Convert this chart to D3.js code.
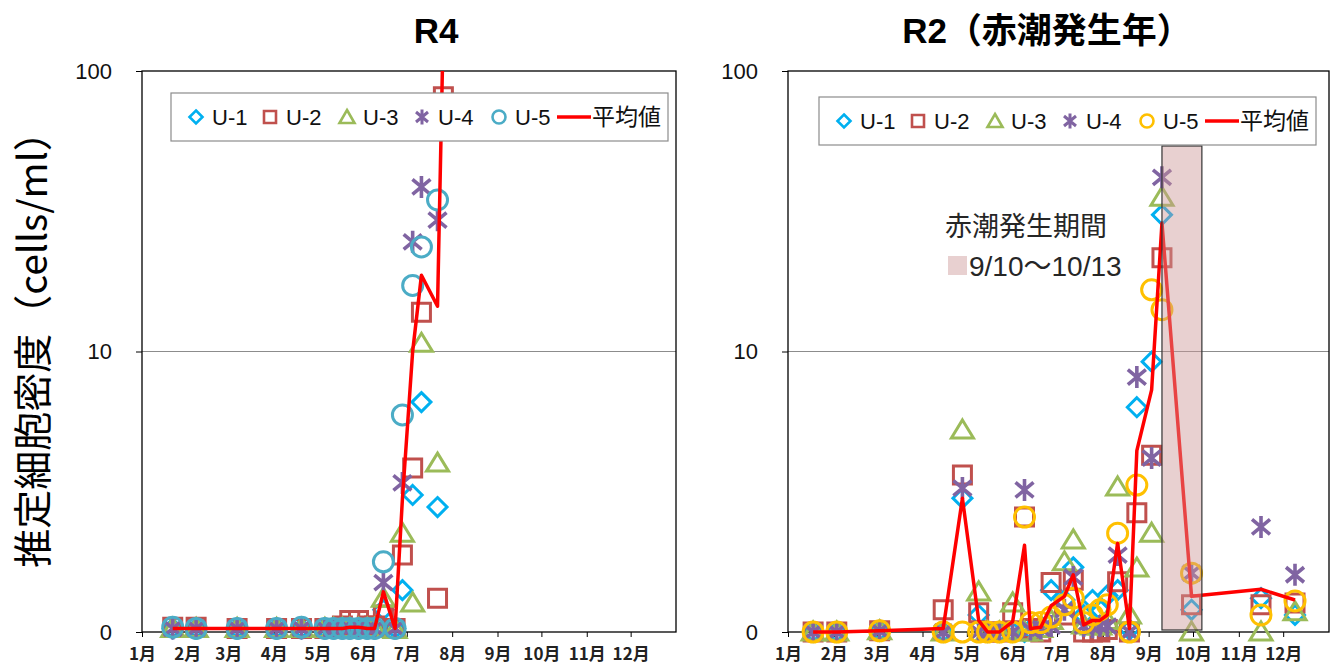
<!DOCTYPE html>
<html>
<head>
<meta charset="utf-8">
<script src="https://cdn.jsdelivr.net/npm/d3@7"></script>
<style>
body{margin:0;background:#fff;}
text{font-family:"Liberation Sans","Noto Sans CJK JP",sans-serif;}
</style>
</head>
<body>
<script>
// tick labels
const monthLabels = ["1月","2月","3月","4月","5月","6月","7月","8月","9月","10月","11月","12月"];
const yTickValues = [1, 10, 100];
const yTickLabels = ["0", "10", "100"];
const seriesNames = ["U-1","U-2","U-3","U-4","U-5"];
const avgName = "平均値";
const yTitle = "推定細胞密度（cells/ml）";

// R4 (2022)
const r4Dates = ["2022-01-22","2022-02-07","2022-03-07","2022-04-03","2022-04-20","2022-05-06","2022-05-12","2022-05-18","2022-05-23","2022-05-29","2022-06-04","2022-06-09","2022-06-15","2022-06-23","2022-06-28","2022-07-05","2022-07-11","2022-07-22","2022-07-26"];
const r4U1 = [1.03,1.03,1.03,1.03,1.03,1.03,1.03,1.03,1.03,1.03,1.03,1.03,1.20,1.03,1.41,3.08,6.6,2.79,null];
const r4U2 = [1.04,1.04,1.03,1.03,1.03,1.03,1.03,1.05,1.10,1.10,1.05,1.05,1.15,1.03,1.88,3.84,13.8,1.32,81];
const r4U3 = [1.03,1.03,1.03,1.03,1.03,1.03,1.03,1.03,1.03,1.03,1.03,1.03,1.32,1.02,2.25,1.27,10.7,4.0,null];
const r4U4 = [1.03,1.03,1.03,1.03,1.03,1.03,1.03,1.03,1.03,1.03,1.03,1.03,1.50,1.03,3.40,24.6,38.6,29.4,null];
const r4U5 = [1.04,1.03,1.03,1.03,1.04,1.03,1.03,1.03,1.03,1.03,1.03,1.03,1.78,1.03,5.94,17.2,23.6,34.7,null];
const r4Avg = [1.03,1.03,1.03,1.03,1.03,1.03,1.03,1.03,1.04,1.04,1.03,1.03,1.39,1.03,2.98,10.0,18.7,14.5,150];

// R2 (2020, red tide year)
const r2Dates = ["2020-01-18","2020-02-03","2020-03-03","2020-04-15","2020-04-28","2020-05-09","2020-05-15","2020-05-23","2020-06-01","2020-06-09","2020-06-13","2020-06-20","2020-06-27","2020-07-06","2020-07-12","2020-07-19","2020-07-25","2020-07-30","2020-08-04","2020-08-11","2020-08-19","2020-08-24","2020-09-03","2020-09-10","2020-09-30","2020-11-16","2020-12-09"];
const r2U1 = [1.0,1.0,1.01,1.0,3.0,1.15,1.0,1.0,1.0,1.0,1.02,1.05,1.41,1.30,1.70,1.15,1.30,1.20,1.35,1.41,1.02,6.33,9.2,30.7,1.2,1.32,1.15];
const r2U2 = [1.0,1.0,1.01,1.20,3.63,1.17,1.0,1.0,1.17,2.57,1.03,1.0,1.50,1.15,1.53,1.0,1.0,1.0,1.02,1.51,1.0,2.66,4.27,21.6,1.25,1.25,1.27];
const r2U3 = [1.0,1.0,1.01,1.0,5.25,1.39,1.0,1.0,1.27,1.0,1.0,1.03,1.10,1.78,2.13,1.06,1.05,1.05,1.10,3.29,1.15,1.69,2.25,35.5,1.0,1.0,1.18];
const r2U4 = [1.0,1.0,1.01,1.0,3.26,1.0,1.0,1.0,1.0,3.21,1.02,1.03,1.05,1.20,1.57,1.05,1.04,1.05,1.05,1.88,1.0,8.11,4.17,41.8,1.62,2.37,1.6];
const r2U5 = [1.0,1.0,1.01,1.0,1.0,1.0,1.0,1.0,1.0,2.57,1.08,1.08,1.13,1.25,1.32,1.08,1.15,1.20,1.25,2.25,1.0,3.34,16.6,14.1,1.62,1.15,1.29];
const r2Avg = [1.0,1.0,1.01,1.03,3.0,1.1,1.0,1.0,1.09,2.04,1.03,1.04,1.24,1.34,1.6,1.06,1.1,1.1,1.15,2.07,1.03,4.43,7.3,28.7,1.34,1.42,1.30];
const r2Tide = ["2020-09-10","2020-10-07"];
const r2TideTitle = "赤潮発生期間";
const r2TideLabel = "9/10〜10/13";

const parseDate = d3.timeParse("%Y-%m-%d");

// marker shapes centred on 0,0
const shapes = {
    diamond: "M0,-9.5L9.5,0L0,9.5L-9.5,0Z",
    square: "M-9,-9H9V9H-9Z",
    triangle: "M0,-10L11,8H-11Z",
    asterisk: "M0,-11V11M-9,-7.5L9,7.5M-9,7.5L9,-7.5",
    circle: "M10,0A10,10 0 1,1 -10,0A10,10 0 1,1 10,0Z"
};
const legendShapes = {
    diamond: "M0,-6.5L6.5,0L0,6.5L-6.5,0Z",
    square: "M-6,-6H6V6H-6Z",
    triangle: "M0,-7L7.5,6H-7.5Z",
    asterisk: "M0,-7.5V7.5M-6,-5L6,5M-6,5L6,-5",
    circle: "M6.5,0A6.5,6.5 0 1,1 -6.5,0A6.5,6.5 0 1,1 6.5,0Z"
};
const shapeOrder = ["diamond","square","triangle","asterisk","circle"];

function drawPanel(svg, cfg){
    const g = svg.append('g');
    const x = d3.scaleTime().domain([new Date(cfg.year,0,1), new Date(cfg.year+1,0,1)])
        .range([cfg.left, cfg.right]);
    const y = d3.scaleLog().domain([1,100]).range([cfg.bottom, cfg.top]);

    // title
    g.append('text').attr('x', cfg.titleX).attr('y', 43)
        .attr('text-anchor','middle').attr('font-size',35).attr('font-weight','bold')
        .text(cfg.title);

    // gridline at 10
    g.append('line').attr('x1',cfg.left).attr('x2',cfg.right)
        .attr('y1',y(10)).attr('y2',y(10)).attr('stroke','#8c8c8c').attr('stroke-width',1);

    // axes
    const monthTicks = d3.timeMonth.range(new Date(cfg.year,0,1), new Date(cfg.year+1,0,1));
    const xAxis = d3.axisBottom(x).tickValues(monthTicks)
        .tickFormat((d,i)=>monthLabels[i]).tickSize(5).tickSizeOuter(0).tickPadding(11);
    const yAxis = d3.axisLeft(y).tickValues(yTickValues)
        .tickFormat((d,i)=>yTickLabels[i]).tickSize(6).tickSizeOuter(0).tickPadding(24);

    const gx = g.append('g').attr('transform','translate(0,'+cfg.bottom+')').call(xAxis);
    gx.select('.domain').remove();
    gx.selectAll('text').attr('font-size',17).attr('font-weight','bold').attr('fill','#222')
        .style('font-family','"Noto Sans CJK JP",sans-serif');
    gx.selectAll('line').attr('stroke','#000');

    const gy = g.append('g').attr('transform','translate('+cfg.left+',0)').call(yAxis);
    gy.select('.domain').remove();
    gy.selectAll('text').attr('font-size',22).attr('fill','#111');

    // plot frame
    g.append('rect').attr('x',cfg.left).attr('y',cfg.top)
        .attr('width',cfg.right-cfg.left).attr('height',cfg.bottom-cfg.top)
        .attr('fill','none').attr('stroke','#000').attr('stroke-width',1.3);

    const dates = cfg.dates.map(parseDate);

    // markers
    cfg.series.forEach(function(vals, si){
        const pts = dates.map((d,i)=>({date:d, value:vals[i]})).filter(p=>p.value!=null && p.value<=100);
        g.selectAll('.m'+si).data(pts).enter().append('path')
            .attr('d', shapes[shapeOrder[si]])
            .attr('transform', d=>'translate('+x(d.date)+','+y(d.value)+')')
            .attr('fill','none').attr('stroke',cfg.colors[si])
            .attr('stroke-width', shapeOrder[si]==='asterisk' ? 3.6 : 3);
    });

    // average line, clipped to the plot area
    const clipId = 'clip'+cfg.year;
    svg.append('clipPath').attr('id',clipId).append('rect')
        .attr('x',cfg.left).attr('y',cfg.top).attr('width',cfg.right-cfg.left).attr('height',cfg.bottom-cfg.top+10);
    const avgPts = dates.map((d,i)=>({date:d, value:cfg.avg[i]}));
    const line = d3.line().x(d=>x(d.date)).y(d=>y(d.value));
    g.append('path').datum(avgPts).attr('d',line).attr('clip-path','url(#'+clipId+')')
        .attr('fill','none').attr('stroke','#ff0000').attr('stroke-width',3.5).attr('stroke-linejoin','round');

    // red tide period
    if (cfg.tide){
        const t0 = parseDate(cfg.tide[0]), t1 = parseDate(cfg.tide[1]);
        g.append('rect').attr('x',x(t0)).attr('y',146)
            .attr('width',x(t1)-x(t0)).attr('height',cfg.bottom-2-146)
            .attr('fill','rgba(205,150,150,0.45)').attr('stroke','#333').attr('stroke-width',1.2);
        g.append('text').attr('x',945).attr('y',236).attr('font-size',27).attr('fill','#262626')
            .style('font-family','"Noto Sans CJK JP",sans-serif').text(cfg.tideTitle);
        g.append('rect').attr('x',948).attr('y',256).attr('width',19).attr('height',19)
            .attr('fill','rgba(205,150,150,0.45)');
        g.append('text').attr('x',969).attr('y',276).attr('font-size',28).attr('fill','#262626')
            .text(cfg.tideLabel);
    }

    // legend
    const lg = g.append('g').attr('transform','translate('+cfg.legendX+','+cfg.legendY+')');
    lg.append('rect').attr('width',497).attr('height',48)
        .attr('fill','#fff').attr('stroke','#8c8c8c').attr('stroke-width',1.2);
    const markerOffsets = [25, 99, 176, 251, 328];
    seriesNames.forEach(function(name, si){
        lg.append('path').attr('d',legendShapes[shapeOrder[si]])
            .attr('transform','translate('+markerOffsets[si]+',24)')
            .attr('fill','none').attr('stroke',cfg.colors[si])
            .attr('stroke-width', shapeOrder[si]==='asterisk' ? 3 : 2.6);
        lg.append('text').attr('x',markerOffsets[si]+16).attr('y',32)
            .attr('font-size',22).attr('fill','#111').text(name);
    });
    lg.append('line').attr('x1',386).attr('x2',420).attr('y1',24).attr('y2',24)
        .attr('stroke','#ff0000').attr('stroke-width',3.5);
    lg.append('text').attr('x',421).attr('y',32).attr('font-size',23).attr('fill','#111')
        .style('font-family','"Noto Sans CJK JP",sans-serif').text(avgName);
}

window.addEventListener('load',function(){
    const svg = d3.select('body').append('svg')
        .attr('width',1332)
        .attr('height',670);

    svg.append('text').attr('transform','translate(47,340) rotate(-90)')
        .attr('text-anchor','middle').attr('font-size',39).attr('fill','#000')
        .style('font-family','"Noto Sans CJK JP",sans-serif')
        .text(yTitle);

    drawPanel(svg, {
        title:"R4", titleX:436, year:2022, left:142, right:676, top:71, bottom:632,
        dates:r4Dates, series:[r4U1,r4U2,r4U3,r4U4,r4U5], avg:r4Avg,
        colors:["#00b0f0","#c0504d","#9bbb59","#8064a2","#4bacc6"],
        legendX:171, legendY:93
    });

    drawPanel(svg, {
        title:"R2（赤潮発生年）", titleX:1047, year:2020, left:788, right:1329, top:71, bottom:632,
        dates:r2Dates, series:[r2U1,r2U2,r2U3,r2U4,r2U5], avg:r2Avg,
        colors:["#00b0f0","#c0504d","#9bbb59","#8064a2","#ffc000"],
        legendX:819, legendY:97,
        tide:r2Tide, tideTitle:r2TideTitle, tideLabel:r2TideLabel
    });
});
</script>
</body>
</html>
